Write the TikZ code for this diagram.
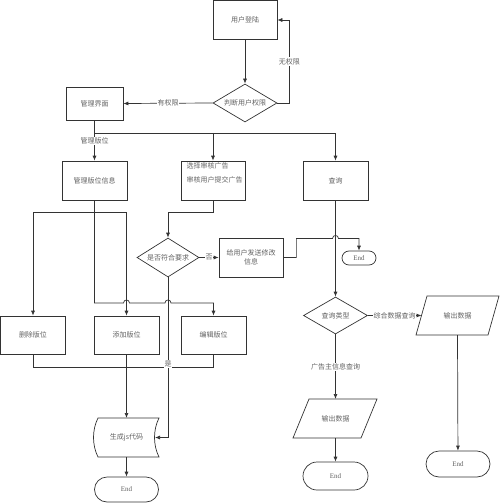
\documentclass[tikz,border=0pt]{standalone}
\usepackage{fontspec}
\setmainfont{Liberation Serif}
\newfontfamily\cjk{Noto Sans CJK SC}
\usetikzlibrary{shapes.geometric,shapes.misc,arrows.meta}
\begin{document}
\begin{tikzpicture}[x=1pt,y=-1pt,line width=0.7pt,color=black!80,
  every node/.style={font=\cjk\fontsize{7}{9}\selectfont, text=black!62},
  box/.style={draw=black!80, rectangle, minimum width=#1, minimum height=39pt, inner sep=1pt},
  box/.default=64pt,
  dia/.style={draw=black!80, diamond, aspect=1.6, inner sep=0pt, minimum width=64pt, minimum height=38pt},
  endn/.style={draw=black!80, rounded rectangle, inner sep=0pt, font=\rmfamily\fontsize{7}{8}\selectfont},
  lbl/.style={fill=white, inner sep=0.8pt},
  arr/.style={-{Latex[length=5pt,width=4pt]}}]
\useasboundingbox (0,0) rectangle (500,503);

% nodes
\node[box=64pt] (login) at (245,20) {用户登陆};
\node[dia] (judge) at (245,103) {判断用户权限};
\node[box=57pt, minimum height=33pt] (mgmt) at (94.5,103.5) {管理界面};
\node[box=65pt] (info) at (94.5,180.5) {管理版位信息};
\node[box=64pt] (audit) at (213,180.5) {};
\node[anchor=west] (auditA) at (183,166) {选择审核广告};
\node[anchor=west] (auditB) at (183,180) {审核用户提交广告};
\node[box=65pt] (query) at (335.5,180.5) {查询};
\node[dia, minimum width=62pt, minimum height=39pt] (ok) at (168,257.5) {是否符合要求};
\node[box=64pt, align=center] (send) at (251,257.5) {给用户发送修改\\信息};
\node[endn, minimum width=34pt, minimum height=14pt] (end1) at (359,258) {End};
\node[box=65pt, minimum height=38pt] (del) at (33,335) {删除版位};
\node[box=65pt, minimum height=38pt] (add) at (126.5,335) {添加版位};
\node[box=65pt, minimum height=38pt] (edit) at (213.5,335) {编辑版位};
\node[dia, minimum height=37pt] (qtype) at (335.5,315.5) {查询类型};

% output parallelograms
\draw (427,296) -- (499,296) -- (488,335) -- (416,335) -- cycle;
\node (out1) at (457.5,315.5) {输出数据};
\coordinate (out1L) at (421.5,315.5);
\coordinate (out1B) at (457.5,335);
\draw (309,399) -- (377,399) -- (361,438) -- (293,438) -- cycle;
\node (out2) at (335.5,418.5) {输出数据};
\coordinate (out2T) at (335.5,399);
\coordinate (out2B) at (335.5,438);

% stored data shape
\draw (98,418) -- (159,418) .. controls (153,430) and (153,445) .. (159,457)
      -- (98,457) .. controls (92,445) and (92,430) .. (98,418) -- cycle;
\node (gen) at (126.5,437.5) {生成js代码};
\coordinate (genT) at (126.5,418);
\coordinate (genB) at (126.5,457);
\coordinate (genR) at (155,437.5);

\node[endn, minimum width=64pt, minimum height=25pt] (end2) at (126.5,489.5) {End};
\node[endn, minimum width=65pt, minimum height=28pt] (end3) at (335.5,476) {End};
\node[endn, minimum width=64pt, minimum height=26pt] (end4) at (458,464) {End};

% connectors
\draw[arr] (login) -- (judge);
\draw[arr] (judge.east) -- ++(12,0) |- node[lbl, pos=0.25]{无权限} (login.east);
\draw[arr] (judge.west) -- node[lbl]{有权限} (mgmt.east);
\draw[arr] (mgmt.south) -- ++(0,12.5) coordinate (j1) -| (query.north);
\draw[arr] (j1) -- node[lbl, pos=0.3]{管理版位} (info.north);
\draw[arr] (audit.north |- j1) -- (audit.north);

\draw[arr] (info.south) -- ++(0,12) coordinate (j2) -| (del.north);
\draw[arr] (j2) -| (add.north);
\draw[arr] (info.south) -- (94.5,303) -- (123.5,303) .. controls (123.5,299) and (129.5,299) .. (129.5,303)
   -- (165,303) .. controls (165,299) and (171,299) .. (171,303) -| (edit.north);

\draw[arr] (audit.south) -- ++(0,12) -| (ok.north);
\draw[arr] (ok.east) -- node[lbl]{否} (send.west);
\draw[arr] (send.east) -- ++(13,0) |- (332.5,238.5) .. controls (332.5,234.5) and (338.5,234.5) .. (338.5,238.5) -| (end1.north);

\draw (del.south) -- ++(0,13) -| (edit.south);
\draw[arr] (add.south) -- (genT);
\draw[arr] (ok.south) |- node[lbl, pos=0.27]{是} (genR);
\draw[arr] (genB) -- (end2);

\draw[arr] (query.south) -- (qtype.north);
\draw[arr] (qtype.east) -- node[lbl]{综合数据查询} (out1L);
\draw[arr] (qtype.south) -- node[lbl]{广告主信息查询} (out2T);
\draw[arr] (out2B) -- (end3);
\draw[arr] (out1B) -- (end4);
\end{tikzpicture}
\end{document}
